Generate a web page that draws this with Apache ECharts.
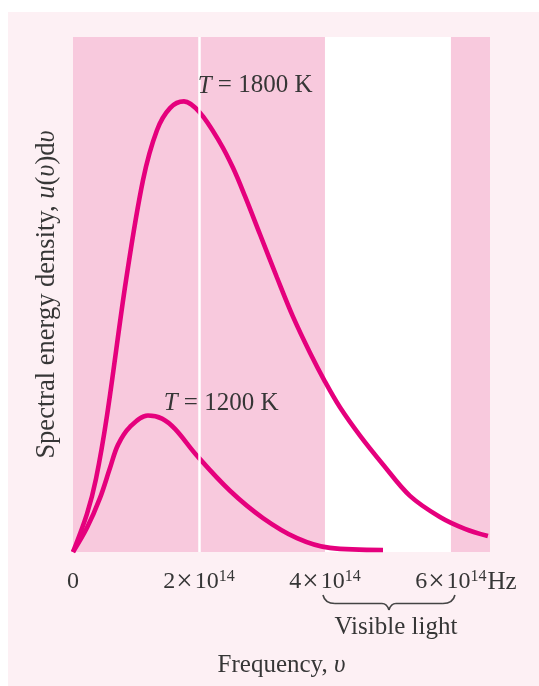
<!DOCTYPE html>
<html>
<head>
<meta charset="utf-8">
<script src="https://cdn.jsdelivr.net/npm/echarts@6/dist/echarts.min.js"></script>
<style>
  html, body { margin: 0; padding: 0; background: #ffffff; }
  #panel { position: absolute; left: 8px; top: 12px; right: 0; bottom: 0; background: #fdf0f4; }
  #chart { position: absolute; left: 0; top: 0; width: 539px; height: 686px; }
</style>
</head>
<body>
<div id="panel"></div>
<div id="chart"></div>
<script>
// Frequency (units of 1e14 Hz) and spectral energy density (arbitrary units)
const freq1800 = [0, 0.222, 0.365, 0.540, 0.841, 1.111, 1.333, 1.540, 1.762, 2.016, 2.333, 2.540, 2.730, 2.968, 3.238, 3.492, 3.762, 4.000, 4.238, 4.556, 4.921, 5.349, 5.825, 6.222, 6.587];
const u1800    = [0, 7.4,   14.2,  26.5,  52.7,  72.2,  81.9,  86.2,  87.5,  85.3,  79.5,  74.6,  69.1,  61.7,  53.3,  45.7,  38.7,  33.1,  28.1,  22.6,  17.0,  10.9,  6.8,   4.5,   3.1];
const freq1200 = [0, 0.222, 0.429, 0.587, 0.714, 0.905, 1.190, 1.413, 1.619, 1.968, 2.492, 3.016, 3.556, 4.079, 4.921];
const u1200    = [0, 4.7,   10.5,  16.3,  20.8,  24.3,  26.5,  25.9,  23.9,  18.7,  11.9,  6.6,   2.7,   0.8,   0.4];

const tickValues = [0, 2, 4, 6];
const tickMantissa = ['0', '2', '4', '6'];
const tickExponent = ['', '14', '14', '14'];
const tickUnit = ['', '', '', 'Hz'];

const visibleRange = [4, 6];
const gridLineAt = 2;
const label1800 = { T: '1800 K', x: 2.89, y: 90.5 };
const label1200 = { T: '1200 K', x: 2.35, y: 28.8 };

const curveColor = '#e5007d';
const textColor = '#363636';
const serif = '"Liberation Serif", "DejaVu Serif", serif';

function pairs(xs, ys) { return xs.map((x, i) => [x, ys[i]]); }

const chart = echarts.init(document.getElementById('chart'), null, { renderer: 'canvas' });

const richBase = {
  n: { fontFamily: serif, fontSize: 24, color: textColor, lineHeight: 26 },
  x: { fontFamily: serif, fontSize: 29, color: textColor, lineHeight: 26, padding: [0, 2, 0, 1] },
  s: { fontFamily: serif, fontSize: 16, color: textColor, lineHeight: 14, verticalAlign: 'top' },
  h: { fontFamily: serif, fontSize: 25, color: textColor, lineHeight: 26, padding: [0, 0, 0, 1] },
  pad: { width: 30, lineHeight: 26 }
};

function curveLabel(l) {
  return {
    symbol: 'circle', symbolSize: 0, silent: true,
    label: {
      show: true, position: 'inside',
      formatter: '{i|T}{r| = ' + l.T + '}',
      rich: {
        i: { fontFamily: serif, fontStyle: 'italic', fontSize: 25, color: textColor },
        r: { fontFamily: serif, fontSize: 25, color: textColor }
      }
    },
    data: [{ coord: [l.x, l.y] }]
  };
}

const option = {
  animation: false,
  backgroundColor: 'transparent',
  grid: { left: 73, right: 49, top: 37, bottom: 134, show: true, backgroundColor: '#f8c9dd', borderWidth: 0 },
  xAxis: {
    type: 'value', min: 0, max: 6.62, interval: 2,
    axisLine: { show: false }, axisTick: { show: false }, splitLine: { show: false },
    axisLabel: {
      margin: 17,
      showMaxLabel: false,
      formatter: function (v) {
        const i = tickValues.indexOf(Math.round(v * 1000) / 1000);
        if (i < 0) return '';
        if (!tickExponent[i]) return '{n|' + tickMantissa[i] + '}';
        let s = '{n|' + tickMantissa[i] + '}{x|×}{n|10}{s|' + tickExponent[i] + '}';
        if (tickUnit[i]) s = '{pad|}' + s + '{h|' + tickUnit[i] + '}';
        return s;
      },
      rich: richBase
    },
    name: '{r|Frequency, }{i|υ}',
    nameLocation: 'middle', nameGap: 101,
    nameTextStyle: {
      rich: {
        r: { fontFamily: serif, fontSize: 25, color: textColor },
        i: { fontFamily: serif, fontStyle: 'italic', fontSize: 25, color: textColor }
      }
    }
  },
  yAxis: {
    type: 'value', min: 0, max: 100,
    axisLine: { show: false }, axisTick: { show: false }, axisLabel: { show: false }, splitLine: { show: false },
    name: '{r|Spectral energy density, }{i|u}{r|(}{i|υ}{r|)d}{i|υ}',
    nameLocation: 'middle', nameGap: 12, nameRotate: 90,
    nameTextStyle: {
      rich: {
        r: { fontFamily: serif, fontSize: 26.5, color: textColor },
        i: { fontFamily: serif, fontStyle: 'italic', fontSize: 26.5, color: textColor }
      }
    }
  },
  series: [
    {
      type: 'line', z: 1, data: [], silent: true,
      markArea: {
        silent: true,
        itemStyle: { color: '#ffffff' },
        data: [[{ xAxis: visibleRange[0] }, { xAxis: visibleRange[1] }]]
      },
      markLine: {
        silent: true, symbol: ['none', 'none'],
        label: { show: false },
        lineStyle: { color: '#ffffff', width: 2.5, type: 'solid' },
        data: [{ xAxis: gridLineAt }]
      }
    },
    {
      name: 'T = 1800 K', type: 'line', z: 3,
      data: pairs(freq1800, u1800),
      showSymbol: false, smooth: 0.35,
      lineStyle: { color: curveColor, width: 4.6 },
      markPoint: curveLabel(label1800)
    },
    {
      name: 'T = 1200 K', type: 'line', z: 3,
      data: pairs(freq1200, u1200),
      showSymbol: false, smooth: 0.35,
      lineStyle: { color: curveColor, width: 4.6 },
      markPoint: curveLabel(label1200)
    }
  ]
};
chart.setOption(option);

// Brace marking the visible range, placed from the x axis scale
const xa = chart.convertToPixel({ xAxisIndex: 0 }, visibleRange[0]);
const xb = chart.convertToPixel({ xAxisIndex: 0 }, visibleRange[1]);
const xl = xa - 2, xr = xb + 4, xm = (xl + xr) / 2;
const yTop = 595, yMid = 603.5, yCusp = 610;
const braceStyle = { stroke: '#444', lineWidth: 1.6, fill: null };
chart.setOption({
  graphic: [
    { type: 'bezierCurve', shape: { x1: xl, y1: yTop, cpx1: xl + 2, cpy1: yMid, x2: xl + 12, y2: yMid }, style: braceStyle, silent: true },
    { type: 'line', shape: { x1: xl + 12, y1: yMid, x2: xm - 7, y2: yMid }, style: braceStyle, silent: true },
    { type: 'bezierCurve', shape: { x1: xm - 7, y1: yMid, cpx1: xm - 2, cpy1: yMid, x2: xm, y2: yCusp }, style: braceStyle, silent: true },
    { type: 'bezierCurve', shape: { x1: xm + 7, y1: yMid, cpx1: xm + 2, cpy1: yMid, x2: xm, y2: yCusp }, style: braceStyle, silent: true },
    { type: 'line', shape: { x1: xm + 7, y1: yMid, x2: xr - 12, y2: yMid }, style: braceStyle, silent: true },
    { type: 'bezierCurve', shape: { x1: xr - 12, y1: yMid, cpx1: xr - 2, cpy1: yMid, x2: xr, y2: yTop }, style: braceStyle, silent: true },
    { type: 'text', x: xm + 7, y: 627, silent: true,
      style: { text: 'Visible light', fontFamily: serif, fontSize: 25, fill: textColor, align: 'center', verticalAlign: 'middle' } }
  ]
});
</script>
</body>
</html>
